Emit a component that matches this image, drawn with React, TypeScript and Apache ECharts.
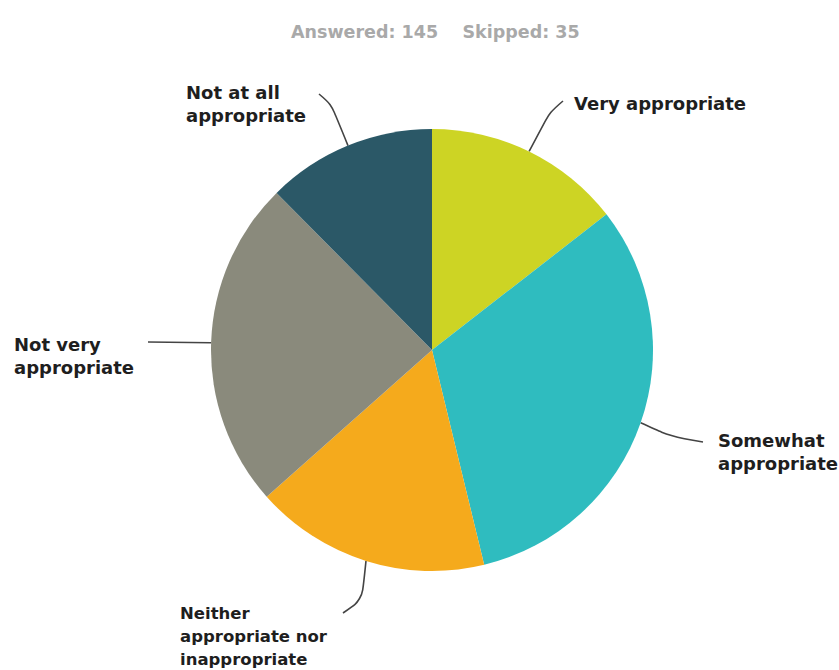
import React, { useEffect, useRef } from "react";
import * as echarts from "echarts";

const categories = [
  "Very appropriate",
  "Somewhat appropriate",
  "Neither appropriate nor inappropriate",
  "Not very appropriate",
  "Not at all appropriate",
];
const labelTexts = [
  "Very appropriate",
  "Somewhat\nappropriate",
  "Neither\nappropriate nor\ninappropriate",
  "Not very\nappropriate",
  "Not at all\nappropriate",
];
const counts = [21, 46, 25, 35, 18];
const colors = ["#cdd424", "#2fbcbf", "#f5aa1c", "#8a8a7c", "#2b5867"];
const answered = 145;
const skipped = 35;

// label anchor (left edge, vertical middle) and leader line bend/end points
const labelPos: [number, number][] = [
  [574, 103],
  [718, 452],
  [180, 636],
  [14, 356],
  [186, 104],
];
const linePts: [number, number][][] = [
  [[550, 112], [563, 101]],
  [[672, 437], [703, 442]],
  [[362, 600], [343, 613]],
  [[148, 342]],
  [[331, 104], [319, 94]],
];
const fontSizes = [18, 18, 16.5, 18, 18];

export default function App() {
  const ref = useRef<HTMLDivElement>(null);
  useEffect(() => {
    if (!ref.current) return;
    const chart = echarts.init(ref.current, undefined, { renderer: "svg" });
    chart.setOption({
      animation: false,
      backgroundColor: "#ffffff",
      title: {
        text: `Answered: ${answered}    Skipped: ${skipped}`,
        left: 286,
        top: 18,
        textStyle: {
          fontFamily: "DejaVu Sans",
          fontWeight: "bold",
          fontSize: 17.5,
          color: "#a9a9a9",
        },
      },
      series: [
        {
          type: "pie",
          center: [432, 350],
          radius: 221,
          startAngle: 90,
          clockwise: true,
          avoidLabelOverlap: false,
          data: categories.map((name, i) => ({
            name,
            value: counts[i],
            itemStyle: { color: colors[i] },
            label: { fontSize: fontSizes[i] },
          })),
          label: {
            show: true,
            position: "outside",
            formatter: (p: any) => labelTexts[p.dataIndex],
            fontFamily: "DejaVu Sans",
            fontWeight: "bold",
            fontSize: 18,
            lineHeight: 23,
            color: "#1e1e1e",
          },
          labelLine: {
            show: true,
            smooth: 0.3,
            length: 30,
            length2: 10,
            lineStyle: { color: "#444444", width: 1.6 },
          },
          labelLayout: (params: any) => {
            const i = params.dataIndex;
            const p0 = params.labelLinePoints ? params.labelLinePoints[0] : null;
            const pts = p0 ? [p0, ...linePts[i]] : undefined;
            return {
              x: labelPos[i][0],
              y: labelPos[i][1],
              align: "left",
              verticalAlign: "middle",
              labelLinePoints: pts,
            };
          },
          emphasis: { disabled: true },
        },
      ],
    });
    return () => chart.dispose();
  }, []);
  return (
    <div
      ref={ref}
      style={{ position: "absolute", left: 0, top: 0, width: 839, height: 670 }}
    />
  );
}
